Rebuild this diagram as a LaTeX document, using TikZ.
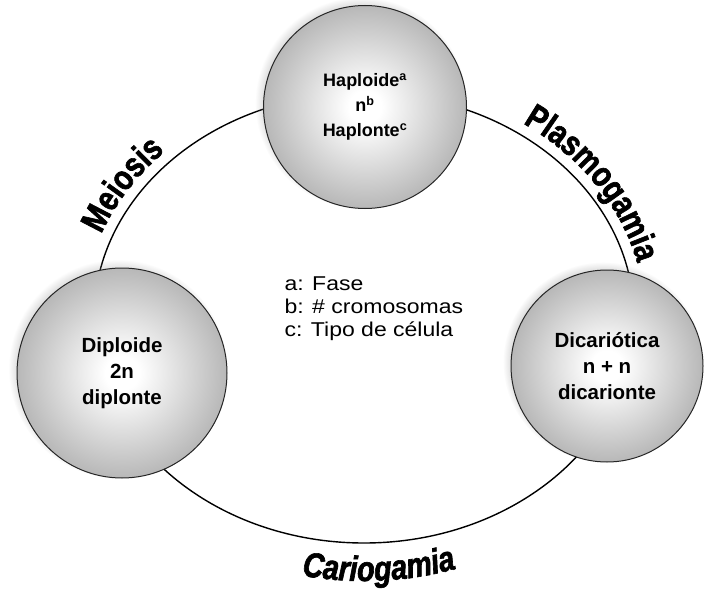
\documentclass[tikz,border=0pt]{standalone}
\usepackage{fontspec}
\setmainfont{Liberation Sans}
\newfontfamily\arcofont{Liberation Sans}[FakeStretch=0.82,FakeBold=1.8]
\newfontfamily\leyendafont{Liberation Sans}[FakeStretch=1.15]
\usetikzlibrary{shapes.geometric,decorations.text,shadows,positioning}

\pgfdeclareradialshading{esfera}{\pgfpoint{0bp}{0bp}}{color(0bp)=(white); color(4bp)=(white); color(25bp)=(black!28); color(50bp)=(black!58)}

\begin{document}
\begin{tikzpicture}[x=1pt,y=1pt,
  fase/.style={circle,draw=black!85,line width=1pt,shading=esfera,align=center,inner sep=0pt,
    font=\bfseries\fontsize{20.5}{26}\selectfont,
    circular drop shadow={shadow scale=1.04,shadow xshift=-4pt,shadow yshift=4pt,fill=black!45,opacity=.5}},
  rotulo/.style={decorate,decoration={text along path,text align=center,text={#1}}}]
\useasboundingbox (0,0) rectangle (706,590);
% ciclo de vida
\node[ellipse,draw,line width=1.4pt,minimum width=540,minimum height=450,inner sep=0pt] (ciclo) at (364,272) {};
\node[fase,minimum size=203,font=\bfseries\fontsize{18}{25}\selectfont] (haploide) at (365,483) {Haploide\textsuperscript{a}\\n\textsuperscript{b}\\Haplonte\textsuperscript{c}};
\node[fase,minimum size=210] (diploide) at (122,217) {Diploide\\2n\\diplonte};
\node[fase,minimum size=192] (dicariotica) at (607,224) {Dicariótica\\n + n\\dicarionte};
\node[align=left,anchor=west,font=\leyendafont\fontsize{20}{23}\selectfont] (leyenda) at (281,281) {a: Fase\\b: \# cromosomas\\c: Tipo de célula};
% rotulos sobre el ciclo
\path[rotulo={|\arcofont\bfseries\fontsize{35}{35}\selectfont|Meiosis}] ([shift={(ciclo.center)}]176:281 and 236) arc[start angle=176,end angle=120,x radius=281,y radius=236];
\path[rotulo={|\arcofont\bfseries\fontsize{35}{35}\selectfont|Plasmogamia}] ([shift={(ciclo.center)}]63:281 and 236) arc[start angle=63,end angle=5,x radius=281,y radius=236];
\path[rotulo={|\arcofont\bfseries\itshape\fontsize{35}{35}\selectfont|Cariogamia}] ([shift={(ciclo.center)}]243:305 and 263) arc[start angle=243,end angle=303,x radius=305,y radius=263];
\end{tikzpicture}
\end{document}
